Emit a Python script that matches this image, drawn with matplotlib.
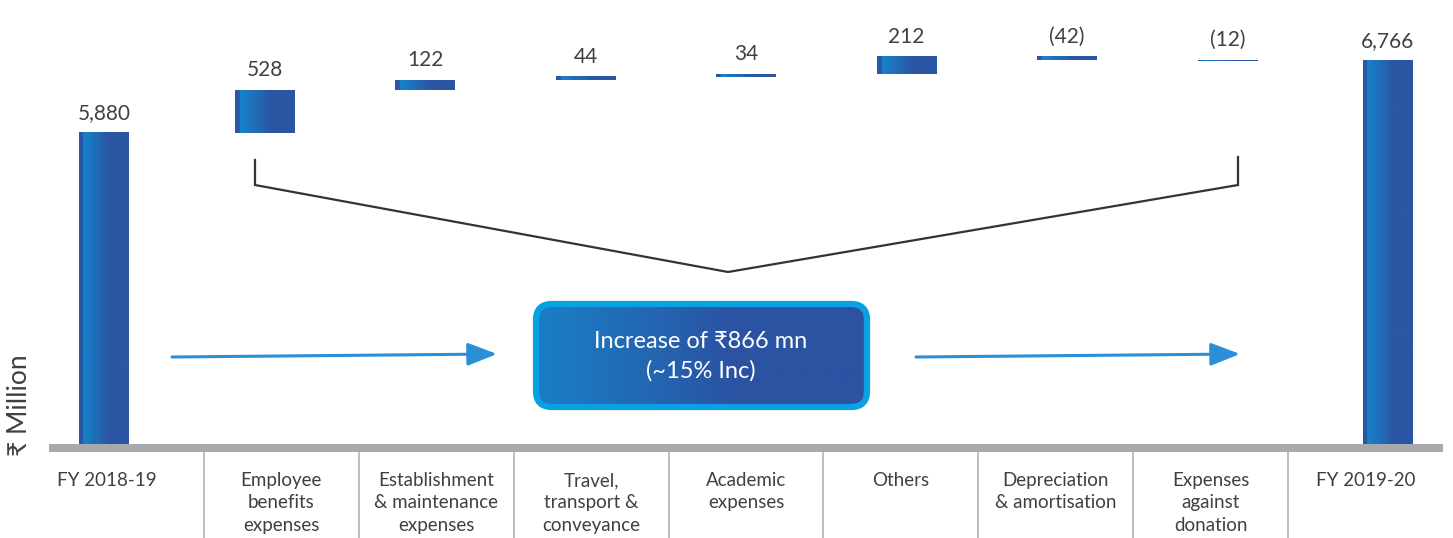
import numpy as np
import matplotlib
matplotlib.use("Agg")
import matplotlib.pyplot as plt
from matplotlib.colors import LinearSegmentedColormap
from matplotlib.patches import FancyBboxPatch

# data
categories = ["FY 2018-19", "Employee\nbenefits\nexpenses",
              "Establishment\n& maintenance\nexpenses",
              "Travel,\ntransport &\nconveyance", "Academic\nexpenses",
              "Others", "Depreciation\n& amortisation",
              "Expenses\nagainst\ndonation", "FY 2019-20"]
start_total = 5880
changes = [528, 122, 44, 34, 212, -42, -12]
end_total = 6766
summary_lines = ["Increase of \u20b9866 mn", "(~15% Inc)"]
y_label = "\u20b9 Million"

plt.rcParams['font.family'] = ['Lato', 'DejaVu Sans']
TXT = '#404040'

W, H = 1453, 538
fig = plt.figure(figsize=(W / 100, H / 100), dpi=100)

# main bar axes
ax = fig.add_axes([0, 94 / H, 1, 444 / H])
ax.axis('off')

bar_cmap = LinearSegmentedColormap.from_list(
    'bar', [(0, '#2b56a3'), (0.08, '#2b56a3'), (0.081, '#1584cc'),
            (0.6, '#2b56a3'), (1, '#2b56a3')])
grad = np.linspace(0, 1, 256).reshape(1, -1)


def grad_bar(x, lo, hi, w):
    ax.imshow(grad, cmap=bar_cmap, extent=[x - w / 2, x + w / 2, lo, hi],
              aspect='auto', interpolation='bilinear', zorder=2)


def fmt(v):
    return f"{v:,}" if v >= 0 else f"({abs(v):,})"


# opening total
grad_bar(0, 0, start_total, 0.31)
ax.annotate(fmt(start_total), (0, start_total), xytext=(0, 7),
            textcoords='offset points', ha='center', va='bottom',
            fontsize=15, color=TXT)

# changes
running = start_total
for i, c in enumerate(changes, start=1):
    lo, hi = sorted([running, running + c])
    grad_bar(i, lo, hi, 0.373)
    ax.annotate(fmt(c), (i, hi), xytext=(0, 7), textcoords='offset points',
                ha='center', va='bottom', fontsize=15, color=TXT)
    running += c

# closing total
n = len(categories) - 1
grad_bar(n, 0, end_total, 0.31)
ax.annotate(fmt(end_total), (n, end_total), xytext=(0, 7),
            textcoords='offset points', ha='center', va='bottom',
            fontsize=15, color=TXT)

ax.set_xlim(-104 / 160.5, (W - 104) / 160.5)
ax.set_ylim(2054, 7515)

# category label strip
lab = fig.add_axes([49 / W, 0, 1394 / W, 94 / H])
lab.axis('off')
lab.set_xlim(0, 9)
lab.set_ylim(0, 94)
lab.axhspan(86, 94, color='#a7a9ac', lw=0)
lab.vlines(np.arange(1, 9), 0, 86, color='#b0b2b4', lw=1.2)
label_x = [0.374] + [k + 0.5 for k in range(1, 9)]
for x, t in zip(label_x, categories):
    lab.text(x, 66, t, ha='center', va='top', fontsize=13.5, color=TXT,
             linespacing=1.38)

# overlay for the bracket, arrows and summary box (pixel coords)
ov = fig.add_axes([0, 0, 1, 1], facecolor='none')
ov.axis('off')

ov.plot([255, 255, 728, 1238, 1238], [160, 185, 272, 185, 157],
        color='#333333', lw=1.6, solid_joinstyle='miter')

for x0, x1 in [(172, 497), (916, 1240)]:
    ov.annotate('', xy=(x1, 354), xytext=(x0, 357),
                arrowprops=dict(arrowstyle='-|>,head_length=1.8,head_width=0.7',
                                color='#2a8fd6', lw=2.2, shrinkA=0, shrinkB=0))

box = FancyBboxPatch((536, 304), 331, 103,
                     boxstyle='round,pad=0,rounding_size=16',
                     facecolor='none', edgecolor='#0aa1e2', lw=4.5, zorder=3)
ov.add_patch(box)
box_cmap = LinearSegmentedColormap.from_list(
    'box', [(0, '#1a7fc6'), (0.6, '#2b53a2'), (1, '#2b53a2')])
im = ov.imshow(grad, cmap=box_cmap, extent=[536, 867, 407, 304],
               aspect='auto', interpolation='bilinear', zorder=2)
im.set_clip_path(box)
ov.text(701, 342, summary_lines[0], ha='center', va='center',
        fontsize=17, color='white', zorder=4)
ov.text(701, 371, summary_lines[1], ha='center', va='center',
        fontsize=17, color='white', zorder=4)

ov.text(20, 405, y_label, rotation=90, ha='center', va='center',
        fontsize=19, color=TXT)

ov.set_xlim(0, W)
ov.set_ylim(H, 0)

fig.savefig('out.png', dpi=100)
